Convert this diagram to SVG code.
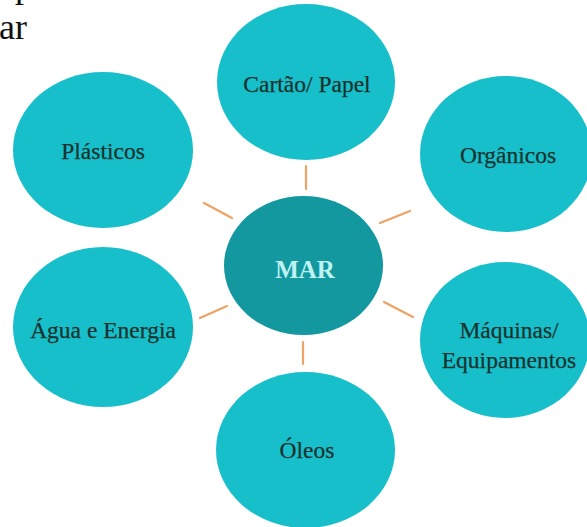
<svg xmlns="http://www.w3.org/2000/svg" width="587" height="527" viewBox="0 0 587 527">
<style>
.n{fill:#17BFCB;}
.c{fill:#14989F;}
.t{font-family:"Liberation Serif","Times New Roman",serif;font-size:23.5px;fill:#17332e;stroke:#17332e;stroke-width:0.25;text-anchor:middle;}
.m{font-family:"Liberation Serif","Times New Roman",serif;font-size:25px;font-weight:bold;fill:#BDF3F2;text-anchor:middle;}
.e{stroke:#F0A264;stroke-width:2.2;stroke-linecap:round;fill:none;}
.p{font-family:"Liberation Serif","Times New Roman",serif;font-size:36px;fill:#111;}
</style>
<rect width="587" height="527" fill="#fff"/>
<text class="p" x="15" y="-3">p</text>
<text class="p" x="-1" y="39">ar</text>
<g id="connectors">
<line class="e" x1="306" y1="166" x2="306" y2="189"/>
<line class="e" x1="204" y1="203" x2="232" y2="218"/>
<line class="e" x1="380" y1="223" x2="410" y2="211"/>
<line class="e" x1="200" y1="318" x2="227" y2="306"/>
<line class="e" x1="384" y1="302" x2="413" y2="317"/>
<line class="e" x1="303" y1="342" x2="303" y2="364"/>
</g>
<g id="cartao"><ellipse class="n" cx="306" cy="82" rx="89" ry="78"/><text class="t" x="307" y="92">Cartão/ Papel</text></g>
<g id="plasticos"><ellipse class="n" cx="103" cy="150" rx="90" ry="78"/><text class="t" x="103" y="159">Plásticos</text></g>
<g id="organicos"><ellipse class="n" cx="506" cy="154" rx="86" ry="78"/><text class="t" x="508" y="163">Orgânicos</text></g>
<g id="mar"><ellipse class="c" cx="303.5" cy="265.5" rx="79.5" ry="69.5"/><text class="m" x="305" y="278">MAR</text></g>
<g id="agua"><ellipse class="n" cx="103" cy="327" rx="90" ry="80"/><text class="t" x="103" y="338">Água e Energia</text></g>
<g id="maquinas"><ellipse class="n" cx="505" cy="340" rx="85" ry="78"/><text class="t" x="509" y="338">Máquinas/</text><text class="t" x="509" y="368">Equipamentos</text></g>
<g id="oleos"><ellipse class="n" cx="305.5" cy="450" rx="89.5" ry="78"/><text class="t" x="307" y="458">Óleos</text></g>
</svg>
